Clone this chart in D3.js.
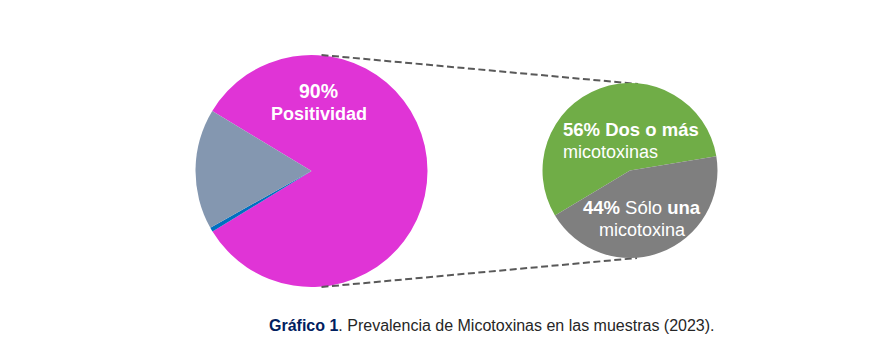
<!DOCTYPE html>
<html>
<head>
<meta charset="utf-8">
<script src="https://cdn.jsdelivr.net/npm/d3@7"></script>
<style>
  body { margin: 0; background: #fff; }
  svg text { font-family: "Liberation Sans", Arial, sans-serif; }
</style>
</head>
<body>
<svg id="chart" width="895" height="363"></svg>
<script>
// DATA
var mainLabels = ["Positividad", "Otro", "Negativo"];
var mainValues = [82.6, 0.6, 16.8];
var mainColors = ["#E034D6", "#0070C0", "#8497B0"];

var subLabels = ["Dos o más micotoxinas", "Sólo una micotoxina"];
var subValues = [56, 44];
var subColors = ["#70AD47", "#7F7F7F"];

var captionBold = "Gráfico 1";
var captionText = ". Prevalencia de Micotoxinas en las muestras (2023).";

// SIZES
var width = 895;
var height = 363;
var mainCenter = [311.5, 171];
var mainRadius = 116;
var subCenter = [630, 170.5];
var subRadius = 87.5;

var svg = d3.select("#chart");

// MAIN PIE
var mainPie = d3.pie()
  .sort(null)
  .startAngle(-58.8 * Math.PI / 180)
  .endAngle((360 - 58.8) * Math.PI / 180);

var mainArc = d3.arc().innerRadius(0).outerRadius(mainRadius);

var gMain = svg.append("g")
  .attr("transform", "translate(" + mainCenter[0] + "," + mainCenter[1] + ")");

gMain.selectAll("path")
  .data(mainPie(mainValues))
  .enter()
  .append("path")
  .attr("d", mainArc)
  .attr("fill", function(d, i) { return mainColors[i]; });

// DASHED CONNECTORS (from main pie edge to small pie)
var connectors = [
  [[mainCenter[0] + 10, mainCenter[1] - mainRadius], [subCenter[0] + 8, subCenter[1] - subRadius + 1]],
  [[mainCenter[0] + 10, mainCenter[1] + mainRadius], [subCenter[0] + 7, subCenter[1] + subRadius]]
];
svg.selectAll("line.conn")
  .data(connectors)
  .enter()
  .append("line")
  .attr("class", "conn")
  .attr("x1", function(d) { return d[0][0]; })
  .attr("y1", function(d) { return d[0][1]; })
  .attr("x2", function(d) { return d[1][0]; })
  .attr("y2", function(d) { return d[1][1]; })
  .style("stroke", "#595959")
  .style("stroke-width", 2)
  .style("stroke-dasharray", "7,3.5");

// SMALL PIE
var subPie = d3.pie()
  .sort(null)
  .startAngle(-121 * Math.PI / 180)
  .endAngle((360 - 121) * Math.PI / 180);

var subArc = d3.arc().innerRadius(0).outerRadius(subRadius);

var gSub = svg.append("g")
  .attr("transform", "translate(" + subCenter[0] + "," + subCenter[1] + ")");

gSub.selectAll("path")
  .data(subPie(subValues))
  .enter()
  .append("path")
  .attr("d", subArc)
  .attr("fill", function(d, i) { return subColors[i]; });

// LABELS
svg.append("text")
  .attr("x", 318.5).attr("y", 97.5)
  .attr("text-anchor", "middle")
  .style("font-size", "19.5px").style("font-weight", "bold").style("fill", "#fff")
  .text("90%");

svg.append("text")
  .attr("x", 319).attr("y", 119.5)
  .attr("text-anchor", "middle")
  .style("font-size", "18px").style("font-weight", "bold").style("fill", "#fff")
  .text(mainLabels[0]);

var t1 = svg.append("text")
  .attr("x", 563).attr("y", 135.5)
  .style("font-size", "18.5px").style("fill", "#fff");
t1.append("tspan").style("font-weight", "bold").text(subValues[0] + "% Dos o más");

svg.append("text")
  .attr("x", 563).attr("y", 157.5)
  .style("font-size", "18px").style("fill", "#fff")
  .text("micotoxinas");

var t2 = svg.append("text")
  .attr("x", 641.5).attr("y", 213.5)
  .attr("text-anchor", "middle")
  .style("font-size", "18.5px").style("fill", "#fff");
t2.append("tspan").style("font-weight", "bold").text(subValues[1] + "%");
t2.append("tspan").text(" Sólo ");
t2.append("tspan").style("font-weight", "bold").text("una");

svg.append("text")
  .attr("x", 642).attr("y", 235.5)
  .attr("text-anchor", "middle")
  .style("font-size", "18px").style("fill", "#fff")
  .text("micotoxina");

// CAPTION
var cap = svg.append("text")
  .attr("x", 269).attr("y", 331)
  .style("font-size", "16px");
cap.append("tspan").style("font-weight", "bold").style("fill", "#002060").text(captionBold);
cap.append("tspan").style("fill", "#262626").text(captionText);
</script>
</body>
</html>
